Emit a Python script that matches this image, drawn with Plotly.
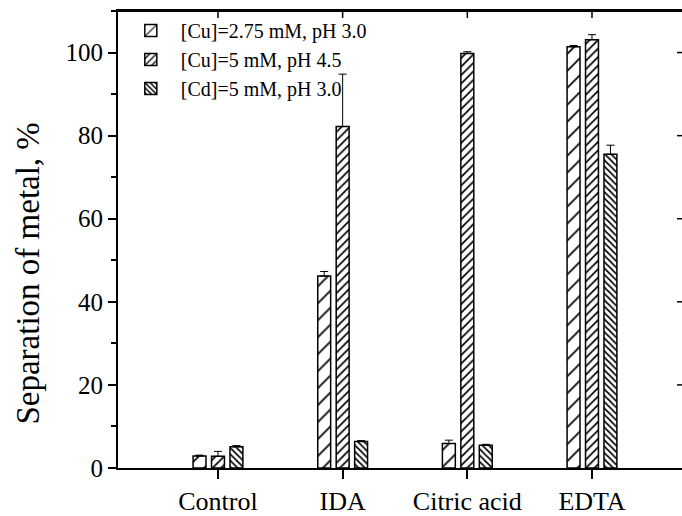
import plotly.graph_objects as go

categories = ["Control", "IDA", "Citric acid", "EDTA"]
series_names = ["[Cu]=2.75 mM, pH 3.0", "[Cu]=5 mM, pH 4.5", "[Cd]=5 mM, pH 3.0"]
cu_275 = [2.9, 46.2, 5.9, 101.4]
cu_275_err = [0.2, 1.1, 0.8, 0.3]
cu_5 = [2.8, 82.2, 99.8, 103.1]
cu_5_err = [1.2, 12.6, 0.4, 1.2]
cd_5 = [5.1, 6.4, 5.5, 75.5]
cd_5_err = [0.3, 0.2, 0.2, 2.2]
y_ticks = [0, 20, 40, 60, 80, 100]
y_title = "Separation of metal, %"

values = [cu_275, cu_5, cd_5]
errors = [cu_275_err, cu_5_err, cd_5_err]
patterns = [("/", 12, 0.14), ("/", 6, 0.28), ("\\", 4.5, 0.38)]

FONT = "Liberation Serif"
W, H = 682, 516
M = dict(l=118, r=0, t=11, b=43)
plot_w = W - M["l"] - M["r"]
plot_h = H - M["t"] - M["b"]

fig = go.Figure()
for name, v, e, (shape, size, sol) in zip(series_names, values, errors, patterns):
    fig.add_trace(go.Bar(
        x=categories, y=v, name=name,
        marker=dict(color="white",
                    line=dict(color="black", width=1.5),
                    pattern=dict(shape=shape, size=size, solidity=sol,
                                 fgcolor="black", bgcolor="white", fillmode="replace")),
        error_y=dict(type="data", array=e, symmetric=False, arrayminus=[0]*len(e),
                     color="black", thickness=1, width=4),
    ))

# frame: top line with inward ticks, inward ticks on the right edge
shapes = [dict(type="line", xref="paper", yref="paper", x0=0, x1=1, y0=1, y1=1,
               line=dict(color="black", width=2), layer="above")]
for c in categories:
    shapes.append(dict(type="line", xref="x", yref="paper", x0=c, x1=c,
                       y0=1, y1=1 - 7 / plot_h, line=dict(color="black", width=1.5),
                       layer="above"))
for t in y_ticks[1:]:
    shapes.append(dict(type="line", xref="paper", yref="y", x0=1, x1=1 - 5 / plot_w,
                       y0=t, y1=t, line=dict(color="black", width=1.5), layer="above"))

fig.update_layout(
    width=W, height=H,
    margin=M,
    paper_bgcolor="white", plot_bgcolor="white",
    barmode="group", bargap=0.556, bargroupgap=0.3,
    font=dict(family=FONT, color="black"),
    showlegend=True,
    legend=dict(x=0.005, y=1.0, xanchor="left", yanchor="top",
                bgcolor="rgba(0,0,0,0)", font=dict(family=FONT, size=20, color="black"),
                tracegroupgap=0, itemwidth=50),
    xaxis=dict(range=[-0.802, 3.722], showline=True, mirror=True, linecolor="black", linewidth=2,
               ticks="outside", ticklen=9, tickwidth=1.5, tickcolor="black",
               tickfont=dict(family=FONT, size=26, color="black"),
               showgrid=False, zeroline=False),
    yaxis=dict(range=[0, 110], tickvals=y_ticks, showline=True, linecolor="black", linewidth=2,
               ticks="outside", ticklen=8, tickwidth=1.5, tickcolor="black",
               minor=dict(dtick=10, ticks="outside", ticklen=5, tickwidth=1.5, tickcolor="black"),
               tickfont=dict(family=FONT, size=25, color="black"),
               showgrid=False, zeroline=False),
    shapes=shapes,
    annotations=[dict(text=y_title, xref="paper", yref="paper", x=-0.16, y=0.425,
                      xanchor="center", yanchor="middle", textangle=-90, showarrow=False,
                      font=dict(family=FONT, size=33, color="black"))],
)

fig.write_html("out.html", config={"displayModeBar": False})
